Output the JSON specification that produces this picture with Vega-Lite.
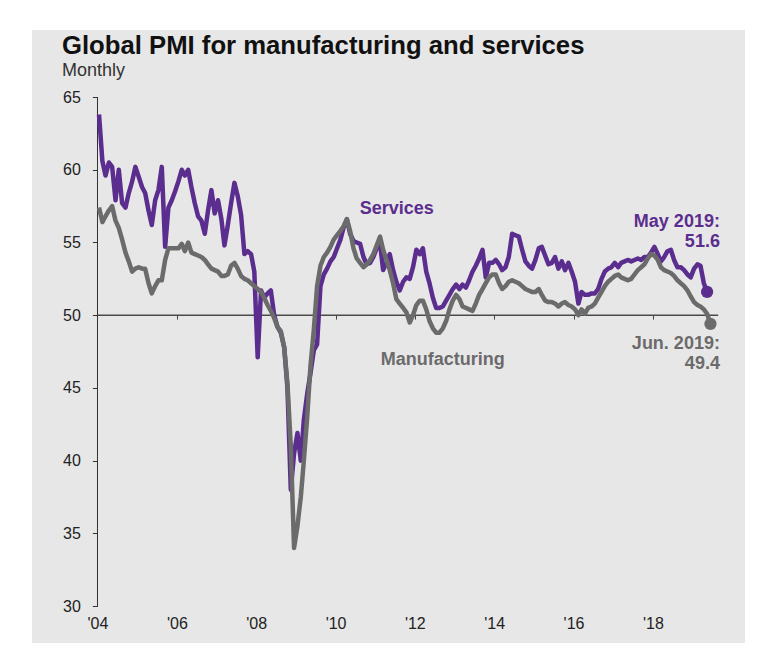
{
  "$schema": "https://vega.github.io/schema/vega-lite/v6.json",
  "width": 713,
  "height": 613,
  "autosize": {"type": "none"},
  "padding": {"left": 32, "top": 30, "right": 15, "bottom": 12},
  "background": "white",
  "config": {"view": {"fill": "#e7e7e7", "stroke": null}, "font": "Liberation Sans"},
  "title": {
    "text": "Global PMI for manufacturing and services",
    "subtitle": "Monthly",
    "anchor": "start",
    "frame": "group",
    "orient": "top",
    "offset": -51,
    "dx": 30,
    "font": "Liberation Sans",
    "fontSize": 25.7,
    "fontWeight": "bold",
    "color": "#111111",
    "subtitleFont": "Liberation Sans",
    "subtitleFontSize": 18,
    "subtitleColor": "#333333",
    "subtitlePadding": 2
  },
  "data": {"values": [
    {"month":"2004-01-15","Services":63.8,"Manufacturing":57.4},
    {"month":"2004-02-15","Services":60.6,"Manufacturing":56.4},
    {"month":"2004-03-15","Services":59.6,"Manufacturing":56.8},
    {"month":"2004-04-15","Services":60.5,"Manufacturing":57.2},
    {"month":"2004-05-15","Services":60.2,"Manufacturing":57.5},
    {"month":"2004-06-15","Services":57.9,"Manufacturing":56.5},
    {"month":"2004-07-15","Services":60.0,"Manufacturing":56.0},
    {"month":"2004-08-15","Services":57.7,"Manufacturing":55.2},
    {"month":"2004-09-15","Services":57.4,"Manufacturing":54.3},
    {"month":"2004-10-15","Services":58.4,"Manufacturing":53.7},
    {"month":"2004-11-15","Services":59.2,"Manufacturing":53.0},
    {"month":"2004-12-15","Services":60.2,"Manufacturing":53.2},
    {"month":"2005-01-15","Services":59.5,"Manufacturing":53.3},
    {"month":"2005-02-15","Services":58.8,"Manufacturing":53.2},
    {"month":"2005-03-15","Services":58.4,"Manufacturing":53.2},
    {"month":"2005-04-15","Services":57.2,"Manufacturing":52.2},
    {"month":"2005-05-15","Services":56.2,"Manufacturing":51.5},
    {"month":"2005-06-15","Services":57.9,"Manufacturing":52.0},
    {"month":"2005-07-15","Services":58.6,"Manufacturing":52.4},
    {"month":"2005-08-15","Services":60.2,"Manufacturing":52.4},
    {"month":"2005-09-15","Services":54.7,"Manufacturing":53.8},
    {"month":"2005-10-15","Services":57.4,"Manufacturing":54.6},
    {"month":"2005-11-15","Services":57.9,"Manufacturing":54.6},
    {"month":"2005-12-15","Services":58.5,"Manufacturing":54.6},
    {"month":"2006-01-15","Services":59.2,"Manufacturing":54.6},
    {"month":"2006-02-15","Services":60.0,"Manufacturing":54.9},
    {"month":"2006-03-15","Services":59.6,"Manufacturing":54.4},
    {"month":"2006-04-15","Services":60.0,"Manufacturing":55.0},
    {"month":"2006-05-15","Services":58.8,"Manufacturing":54.3},
    {"month":"2006-06-15","Services":57.7,"Manufacturing":54.2},
    {"month":"2006-07-15","Services":56.8,"Manufacturing":54.1},
    {"month":"2006-08-15","Services":56.5,"Manufacturing":54.0},
    {"month":"2006-09-15","Services":55.6,"Manufacturing":53.8},
    {"month":"2006-10-15","Services":57.2,"Manufacturing":53.5},
    {"month":"2006-11-15","Services":58.6,"Manufacturing":53.2},
    {"month":"2006-12-15","Services":57.0,"Manufacturing":53.1},
    {"month":"2007-01-15","Services":57.9,"Manufacturing":53.0},
    {"month":"2007-02-15","Services":56.6,"Manufacturing":52.7},
    {"month":"2007-03-15","Services":54.8,"Manufacturing":52.7},
    {"month":"2007-04-15","Services":56.2,"Manufacturing":52.8},
    {"month":"2007-05-15","Services":57.7,"Manufacturing":53.4},
    {"month":"2007-06-15","Services":59.1,"Manufacturing":53.6},
    {"month":"2007-07-15","Services":58.2,"Manufacturing":53.2},
    {"month":"2007-08-15","Services":56.9,"Manufacturing":52.7},
    {"month":"2007-09-15","Services":54.2,"Manufacturing":52.5},
    {"month":"2007-10-15","Services":54.4,"Manufacturing":52.4},
    {"month":"2007-11-15","Services":54.2,"Manufacturing":52.2},
    {"month":"2007-12-15","Services":53.0,"Manufacturing":52.0},
    {"month":"2008-01-15","Services":47.1,"Manufacturing":51.8},
    {"month":"2008-02-15","Services":51.7,"Manufacturing":51.6},
    {"month":"2008-03-15","Services":51.2,"Manufacturing":51.2},
    {"month":"2008-04-15","Services":51.5,"Manufacturing":50.7},
    {"month":"2008-05-15","Services":51.7,"Manufacturing":50.3},
    {"month":"2008-06-15","Services":50.0,"Manufacturing":49.8},
    {"month":"2008-07-15","Services":49.2,"Manufacturing":49.2},
    {"month":"2008-08-15","Services":48.8,"Manufacturing":48.9},
    {"month":"2008-09-15","Services":47.8,"Manufacturing":47.8},
    {"month":"2008-10-15","Services":45.0,"Manufacturing":45.3},
    {"month":"2008-11-15","Services":38.0,"Manufacturing":41.0},
    {"month":"2008-12-15","Services":40.5,"Manufacturing":34.0},
    {"month":"2009-01-15","Services":41.9,"Manufacturing":35.5},
    {"month":"2009-02-15","Services":40.0,"Manufacturing":37.5},
    {"month":"2009-03-15","Services":42.8,"Manufacturing":40.0},
    {"month":"2009-04-15","Services":44.6,"Manufacturing":43.0},
    {"month":"2009-05-15","Services":46.0,"Manufacturing":46.5},
    {"month":"2009-06-15","Services":47.6,"Manufacturing":49.0},
    {"month":"2009-07-15","Services":48.0,"Manufacturing":52.0},
    {"month":"2009-08-15","Services":52.0,"Manufacturing":53.4},
    {"month":"2009-09-15","Services":52.8,"Manufacturing":54.0},
    {"month":"2009-10-15","Services":53.2,"Manufacturing":54.3},
    {"month":"2009-11-15","Services":53.7,"Manufacturing":54.7},
    {"month":"2009-12-15","Services":54.0,"Manufacturing":55.2},
    {"month":"2010-01-15","Services":54.6,"Manufacturing":55.5},
    {"month":"2010-02-15","Services":55.2,"Manufacturing":55.8},
    {"month":"2010-03-15","Services":56.0,"Manufacturing":56.1},
    {"month":"2010-04-15","Services":56.6,"Manufacturing":56.6},
    {"month":"2010-05-15","Services":55.6,"Manufacturing":55.8},
    {"month":"2010-06-15","Services":55.1,"Manufacturing":54.6},
    {"month":"2010-07-15","Services":55.0,"Manufacturing":53.9},
    {"month":"2010-08-15","Services":54.9,"Manufacturing":53.6},
    {"month":"2010-09-15","Services":54.0,"Manufacturing":53.3},
    {"month":"2010-10-15","Services":53.5,"Manufacturing":53.5},
    {"month":"2010-11-15","Services":53.6,"Manufacturing":53.8},
    {"month":"2010-12-15","Services":54.0,"Manufacturing":54.2},
    {"month":"2011-01-15","Services":54.6,"Manufacturing":54.8},
    {"month":"2011-02-15","Services":54.9,"Manufacturing":55.4},
    {"month":"2011-03-15","Services":53.1,"Manufacturing":54.5},
    {"month":"2011-04-15","Services":53.6,"Manufacturing":53.8},
    {"month":"2011-05-15","Services":54.2,"Manufacturing":53.1},
    {"month":"2011-06-15","Services":53.1,"Manufacturing":52.2},
    {"month":"2011-07-15","Services":52.3,"Manufacturing":51.1},
    {"month":"2011-08-15","Services":51.7,"Manufacturing":50.8},
    {"month":"2011-09-15","Services":52.3,"Manufacturing":50.5},
    {"month":"2011-10-15","Services":52.6,"Manufacturing":50.2},
    {"month":"2011-11-15","Services":52.5,"Manufacturing":49.5},
    {"month":"2011-12-15","Services":53.3,"Manufacturing":50.0},
    {"month":"2012-01-15","Services":54.5,"Manufacturing":50.7},
    {"month":"2012-02-15","Services":54.2,"Manufacturing":51.0},
    {"month":"2012-03-15","Services":54.6,"Manufacturing":51.0},
    {"month":"2012-04-15","Services":53.0,"Manufacturing":50.4},
    {"month":"2012-05-15","Services":52.2,"Manufacturing":49.6},
    {"month":"2012-06-15","Services":51.2,"Manufacturing":49.1},
    {"month":"2012-07-15","Services":50.5,"Manufacturing":48.8},
    {"month":"2012-08-15","Services":50.5,"Manufacturing":48.8},
    {"month":"2012-09-15","Services":50.6,"Manufacturing":49.1},
    {"month":"2012-10-15","Services":51.0,"Manufacturing":49.6},
    {"month":"2012-11-15","Services":51.4,"Manufacturing":50.4},
    {"month":"2012-12-15","Services":51.8,"Manufacturing":51.0},
    {"month":"2013-01-15","Services":52.1,"Manufacturing":51.4},
    {"month":"2013-02-15","Services":51.8,"Manufacturing":51.1},
    {"month":"2013-03-15","Services":52.1,"Manufacturing":50.6},
    {"month":"2013-04-15","Services":51.9,"Manufacturing":50.5},
    {"month":"2013-05-15","Services":52.4,"Manufacturing":50.4},
    {"month":"2013-06-15","Services":53.0,"Manufacturing":50.3},
    {"month":"2013-07-15","Services":53.4,"Manufacturing":50.8},
    {"month":"2013-08-15","Services":53.9,"Manufacturing":51.4},
    {"month":"2013-09-15","Services":54.5,"Manufacturing":51.8},
    {"month":"2013-10-15","Services":52.6,"Manufacturing":52.2},
    {"month":"2013-11-15","Services":53.6,"Manufacturing":52.6},
    {"month":"2013-12-15","Services":53.6,"Manufacturing":52.8},
    {"month":"2014-01-15","Services":53.8,"Manufacturing":52.8},
    {"month":"2014-02-15","Services":53.5,"Manufacturing":52.2},
    {"month":"2014-03-15","Services":53.1,"Manufacturing":51.8},
    {"month":"2014-04-15","Services":53.3,"Manufacturing":52.0},
    {"month":"2014-05-15","Services":54.0,"Manufacturing":52.3},
    {"month":"2014-06-15","Services":55.6,"Manufacturing":52.4},
    {"month":"2014-07-15","Services":55.5,"Manufacturing":52.3},
    {"month":"2014-08-15","Services":55.4,"Manufacturing":52.2},
    {"month":"2014-09-15","Services":54.5,"Manufacturing":52.0},
    {"month":"2014-10-15","Services":53.7,"Manufacturing":51.8},
    {"month":"2014-11-15","Services":53.4,"Manufacturing":51.7},
    {"month":"2014-12-15","Services":53.2,"Manufacturing":51.6},
    {"month":"2015-01-15","Services":53.8,"Manufacturing":51.6},
    {"month":"2015-02-15","Services":54.6,"Manufacturing":51.8},
    {"month":"2015-03-15","Services":54.7,"Manufacturing":51.4},
    {"month":"2015-04-15","Services":54.1,"Manufacturing":51.0},
    {"month":"2015-05-15","Services":53.5,"Manufacturing":50.9},
    {"month":"2015-06-15","Services":53.6,"Manufacturing":50.9},
    {"month":"2015-07-15","Services":54.0,"Manufacturing":50.8},
    {"month":"2015-08-15","Services":53.2,"Manufacturing":50.6},
    {"month":"2015-09-15","Services":53.7,"Manufacturing":50.8},
    {"month":"2015-10-15","Services":53.1,"Manufacturing":50.9},
    {"month":"2015-11-15","Services":53.6,"Manufacturing":50.7},
    {"month":"2015-12-15","Services":53.0,"Manufacturing":50.6},
    {"month":"2016-01-15","Services":52.3,"Manufacturing":50.4},
    {"month":"2016-02-15","Services":50.8,"Manufacturing":50.0},
    {"month":"2016-03-15","Services":51.6,"Manufacturing":50.4},
    {"month":"2016-04-15","Services":51.4,"Manufacturing":50.1},
    {"month":"2016-05-15","Services":51.4,"Manufacturing":50.5},
    {"month":"2016-06-15","Services":51.5,"Manufacturing":50.6},
    {"month":"2016-07-15","Services":51.5,"Manufacturing":50.8},
    {"month":"2016-08-15","Services":51.8,"Manufacturing":51.2},
    {"month":"2016-09-15","Services":52.5,"Manufacturing":51.6},
    {"month":"2016-10-15","Services":53.0,"Manufacturing":52.0},
    {"month":"2016-11-15","Services":53.2,"Manufacturing":52.3},
    {"month":"2016-12-15","Services":53.3,"Manufacturing":52.5},
    {"month":"2017-01-15","Services":53.6,"Manufacturing":52.7},
    {"month":"2017-02-15","Services":53.3,"Manufacturing":52.8},
    {"month":"2017-03-15","Services":53.6,"Manufacturing":52.6},
    {"month":"2017-04-15","Services":53.7,"Manufacturing":52.5},
    {"month":"2017-05-15","Services":53.8,"Manufacturing":52.4},
    {"month":"2017-06-15","Services":53.7,"Manufacturing":52.5},
    {"month":"2017-07-15","Services":53.8,"Manufacturing":52.8},
    {"month":"2017-08-15","Services":53.9,"Manufacturing":53.1},
    {"month":"2017-09-15","Services":53.8,"Manufacturing":53.3},
    {"month":"2017-10-15","Services":54.0,"Manufacturing":53.5},
    {"month":"2017-11-15","Services":54.0,"Manufacturing":53.9},
    {"month":"2017-12-15","Services":54.3,"Manufacturing":54.2},
    {"month":"2018-01-15","Services":54.7,"Manufacturing":54.1},
    {"month":"2018-02-15","Services":54.2,"Manufacturing":53.8},
    {"month":"2018-03-15","Services":53.7,"Manufacturing":53.3},
    {"month":"2018-04-15","Services":54.0,"Manufacturing":53.1},
    {"month":"2018-05-15","Services":54.4,"Manufacturing":53.0},
    {"month":"2018-06-15","Services":54.5,"Manufacturing":52.9},
    {"month":"2018-07-15","Services":53.8,"Manufacturing":52.7},
    {"month":"2018-08-15","Services":53.3,"Manufacturing":52.4},
    {"month":"2018-09-15","Services":53.3,"Manufacturing":52.2},
    {"month":"2018-10-15","Services":53.1,"Manufacturing":52.0},
    {"month":"2018-11-15","Services":52.8,"Manufacturing":51.7},
    {"month":"2018-12-15","Services":52.6,"Manufacturing":51.3},
    {"month":"2019-01-15","Services":53.2,"Manufacturing":50.9},
    {"month":"2019-02-15","Services":53.5,"Manufacturing":50.7},
    {"month":"2019-03-15","Services":53.4,"Manufacturing":50.6},
    {"month":"2019-04-15","Services":52.2,"Manufacturing":50.4},
    {"month":"2019-05-15","Services":51.6,"Manufacturing":50.1},
    {"month":"2019-06-15","Services":null,"Manufacturing":49.4}
  ]},
  "layer": [
    {
      "data": {"values": [{}]},
      "mark": {"type": "rule", "color": "#4a4a4a", "strokeWidth": 1.5},
      "encoding": {
        "x": {"datum": {"year": 2004, "month": 1, "date": 1, "utc": true}, "type": "temporal"},
        "x2": {"datum": {"year": 2019, "month": 8, "date": 25, "utc": true}},
        "y": {"datum": 50, "type": "quantitative"}
      }
    },
    {
      "data": {"values": [{}]},
      "mark": {"type": "rule", "color": "#333333", "strokeWidth": 1},
      "encoding": {
        "x": {"datum": {"year": 2004, "month": 1, "date": 1, "utc": true}, "type": "temporal"},
        "y": {"datum": 30, "type": "quantitative"},
        "y2": {"datum": 65}
      }
    },
    {
      "transform": [{"filter": "isValid(datum.Services)"}],
      "mark": {"type": "line", "color": "#5b2d8e", "strokeWidth": 4.5, "strokeJoin": "round"},
      "encoding": {
        "x": {
          "field": "month", "type": "temporal", "title": null,
          "scale": {"type": "utc", "domain": [{"year": 2002, "month": 5, "date": 8, "utc": true}, {"year": 2020, "month": 4, "date": 28, "utc": true}]},
          "axis": {
            "orient": "bottom", "offset": -327.9, "domain": false, "grid": false,
            "values": [
              {"year": 2004, "month": 1, "date": 1, "utc": true},
              {"year": 2006, "month": 1, "date": 1, "utc": true},
              {"year": 2008, "month": 1, "date": 1, "utc": true},
              {"year": 2010, "month": 1, "date": 1, "utc": true},
              {"year": 2012, "month": 1, "date": 1, "utc": true},
              {"year": 2014, "month": 1, "date": 1, "utc": true},
              {"year": 2016, "month": 1, "date": 1, "utc": true},
              {"year": 2018, "month": 1, "date": 1, "utc": true}
            ],
            "ticks": true, "tickSize": 4, "tickColor": "#444444", "tickWidth": 1,
            "labelPadding": 296,
            "labelExpr": "\"'\" + utcFormat(datum.value, '%y')",
            "labelFont": "Liberation Sans", "labelFontSize": 16, "labelColor": "#222222",
            "labelFlush": false, "labelOverlap": false
          }
        },
        "y": {
          "field": "Services", "type": "quantitative", "title": null,
          "scale": {"domain": [27.46, 69.61], "nice": false, "zero": false},
          "axis": {
            "orient": "left", "offset": -65.4, "domain": false, "grid": false,
            "values": [30, 35, 40, 45, 50, 55, 60, 65],
            "ticks": true, "tickSize": 5, "tickColor": "#333333",
            "labelPadding": 12, "labelFont": "Liberation Sans", "labelFontSize": 16, "labelColor": "#222222"
          }
        }
      }
    },
    {
      "mark": {"type": "line", "color": "#6b6b6b", "strokeWidth": 4.5, "strokeJoin": "round"},
      "encoding": {
        "x": {"field": "month", "type": "temporal"},
        "y": {"field": "Manufacturing", "type": "quantitative"}
      }
    },
    {
      "transform": [{"filter": "utcFormat(datum.month, '%Y-%m') == '2019-05'"}],
      "mark": {"type": "point", "filled": true, "opacity": 1, "color": "#5b2d8e", "size": 150},
      "encoding": {
        "x": {"field": "month", "type": "temporal"},
        "y": {"field": "Services", "type": "quantitative"}
      }
    },
    {
      "transform": [{"filter": "utcFormat(datum.month, '%Y-%m') == '2019-06'"}],
      "mark": {"type": "point", "filled": true, "opacity": 1, "color": "#6b6b6b", "size": 150},
      "encoding": {
        "x": {"field": "month", "type": "temporal"},
        "y": {"field": "Manufacturing", "type": "quantitative"}
      }
    },
    {
      "data": {"values": [{}]},
      "mark": {"type": "text", "text": "Services", "align": "center", "baseline": "alphabetic", "font": "Liberation Sans", "fontSize": 18, "fontWeight": "bold", "color": "#5b2d8e"},
      "encoding": {
        "x": {"datum": {"year": 2011, "month": 7, "date": 19, "utc": true}, "type": "temporal"},
        "y": {"datum": 56.95, "type": "quantitative"}
      }
    },
    {
      "data": {"values": [{}]},
      "mark": {"type": "text", "text": "Manufacturing", "align": "center", "baseline": "alphabetic", "font": "Liberation Sans", "fontSize": 18, "fontWeight": "bold", "color": "#6b6b6b"},
      "encoding": {
        "x": {"datum": {"year": 2012, "month": 9, "date": 13, "utc": true}, "type": "temporal"},
        "y": {"datum": 46.56, "type": "quantitative"}
      }
    },
    {
      "data": {"values": [{}]},
      "mark": {"type": "text", "text": ["May 2019:", "51.6"], "lineHeight": 20, "align": "right", "baseline": "alphabetic", "font": "Liberation Sans", "fontSize": 18, "fontWeight": "bold", "color": "#5b2d8e"},
      "encoding": {
        "x": {"datum": {"year": 2019, "month": 9, "date": 10, "utc": true}, "type": "temporal"},
        "y": {"datum": 56.05, "type": "quantitative"}
      }
    },
    {
      "data": {"values": [{}]},
      "mark": {"type": "text", "text": ["Jun. 2019:", "49.4"], "lineHeight": 20, "align": "right", "baseline": "alphabetic", "font": "Liberation Sans", "fontSize": 18, "fontWeight": "bold", "color": "#6b6b6b"},
      "encoding": {
        "x": {"datum": {"year": 2019, "month": 9, "date": 10, "utc": true}, "type": "temporal"},
        "y": {"datum": 47.66, "type": "quantitative"}
      }
    }
  ]
}
